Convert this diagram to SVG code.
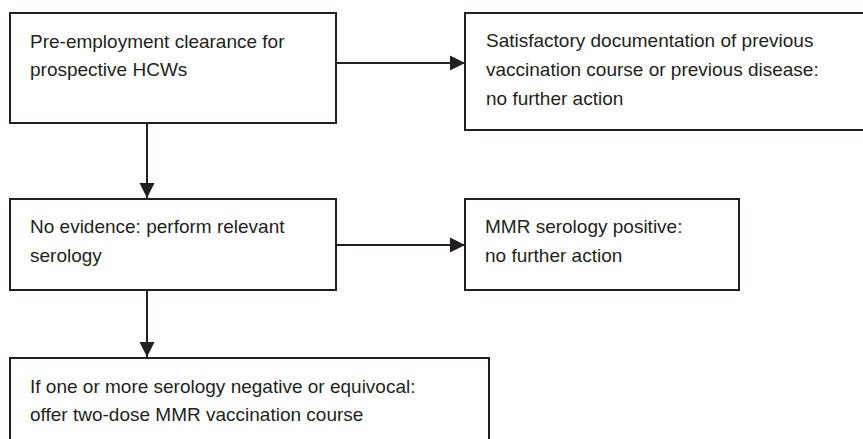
<svg xmlns="http://www.w3.org/2000/svg" width="863" height="439" viewBox="0 0 863 439">
<defs>
<style>
.box{fill:#fff;stroke:#231f20;stroke-width:2}
.t{font-family:"Liberation Sans",Arial,sans-serif;font-size:19px;fill:#231f20}
.c{fill:none;stroke:#231f20;stroke-width:2}
</style>
<marker id="ah" markerUnits="userSpaceOnUse" markerWidth="16" markerHeight="16" viewBox="0 0 16 16" refX="15" refY="8" orient="auto">
<path d="M0,0.5 L15,8 L0,15.5 Z" fill="#231f20"/>
</marker>
</defs>
<rect width="863" height="439" fill="#fff"/>
<g id="n1">
<rect class="box" x="10" y="13" width="326" height="110"/>
<text class="t" x="30" y="48">Pre-employment clearance for</text>
<text class="t" x="30" y="76">prospective HCWs</text>
</g>
<g id="n2">
<rect class="box" x="465" y="13" width="410" height="117"/>
<text class="t" x="486" y="47">Satisfactory documentation of previous</text>
<text class="t" x="486" y="76">vaccination course or previous disease:</text>
<text class="t" x="486" y="105">no further action</text>
</g>
<g id="n3">
<rect class="box" x="10" y="199" width="326" height="91"/>
<text class="t" x="30" y="233">No evidence: perform relevant</text>
<text class="t" x="30" y="262">serology</text>
</g>
<g id="n4">
<rect class="box" x="465" y="199" width="274" height="91"/>
<text class="t" x="485" y="233">MMR serology positive:</text>
<text class="t" x="485" y="262">no further action</text>
</g>
<g id="n5">
<rect class="box" x="10" y="358" width="479" height="100"/>
<text class="t" x="30" y="393">If one or more serology negative or equivocal:</text>
<text class="t" x="30" y="421">offer two-dose MMR vaccination course</text>
</g>
<g id="connectors">
<line class="c" x1="336" y1="63" x2="465" y2="63" marker-end="url(#ah)"/>
<line class="c" x1="147" y1="123" x2="147" y2="198" marker-end="url(#ah)"/>
<line class="c" x1="336" y1="245" x2="465" y2="245" marker-end="url(#ah)"/>
<line class="c" x1="147" y1="290" x2="147" y2="357" marker-end="url(#ah)"/>
</g>
</svg>
